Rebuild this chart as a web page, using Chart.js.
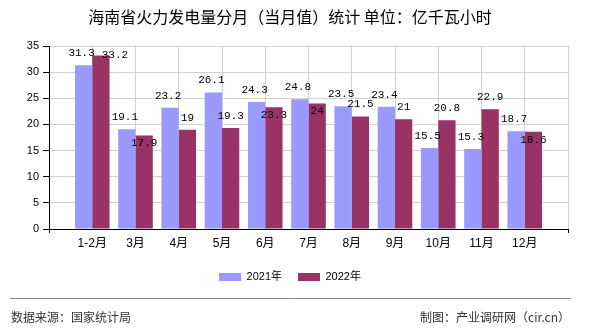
<!DOCTYPE html>
<html>
<head>
<meta charset="utf-8">
<script src="https://cdn.jsdelivr.net/npm/chart.js@4/dist/chart.umd.min.js"></script>
<style>
  html, body { margin: 0; padding: 0; background: #fff; }
  #wrap { width: 590px; height: 330px; position: relative; }
</style>
</head>
<body>
<div id="wrap"><canvas id="chart" width="590" height="330"></canvas></div>
<script>
const titleText = '海南省火力发电量分月（当月值）统计 单位：亿千瓦小时';
const months = ['1-2月', '3月', '4月', '5月', '6月', '7月', '8月', '9月', '10月', '11月', '12月'];
const seriesNames = ['2021年', '2022年'];
const values2021 = [31.3, 19.1, 23.2, 26.1, 24.3, 24.8, 23.5, 23.4, 15.5, 15.3, 18.7];
const values2022 = [33.2, 17.9, 19, 19.3, 23.3, 24, 21.5, 21, 20.8, 22.9, 18.6];
const yTicks = [0, 5, 10, 15, 20, 25, 30, 35];
const sourceText = '数据来源：国家统计局';
const makerText = '制图：产业调研网（cir.cn）';

// empty slots on both ends leave a full category of space at each side
const labels = [''].concat(months, ['']);
const pad = arr => [null].concat(arr, [null]);

const cjk = '"Liberation Sans", "Noto Sans CJK SC", sans-serif';

// value labels, the second series moves when it would hit the first one
const valueLabels = {
  id: 'valueLabels',
  afterDatasetsDraw(chart) {
    const ctx = chart.ctx;
    const m0 = chart.getDatasetMeta(0);
    const m1 = chart.getDatasetMeta(1);
    const yScale = chart.scales.y;
    ctx.save();
    ctx.font = '11px "Liberation Mono", monospace';
    ctx.fillStyle = '#000';
    ctx.textAlign = 'center';
    ctx.textBaseline = 'middle';
    for (let i = 1; i < labels.length - 1; i++) {
      const a = chart.data.datasets[0].data[i];
      const b = chart.data.datasets[1].data[i];
      const ya = yScale.getPixelForValue(a) - 12;
      ctx.fillText(String(a), m0.data[i].x - 2, ya);
      let yb = yScale.getPixelForValue(b) - 12;
      let xb = m1.data[i].x;
      if (Math.abs(yb - ya) < 10) {
        if (b <= a) {
          yb = yScale.getPixelForValue(b) + 8;
        } else {
          yb = yScale.getPixelForValue(b);
          xb += 14;
        }
      }
      ctx.fillText(String(b), xb, yb);
    }
    ctx.restore();
  }
};

const footer = {
  id: 'footer',
  afterDraw(chart) {
    const ctx = chart.ctx;
    ctx.save();
    ctx.strokeStyle = '#888';
    ctx.lineWidth = 1;
    ctx.beginPath();
    ctx.moveTo(10, 298.5);
    ctx.lineTo(571, 298.5);
    ctx.stroke();
    ctx.font = '12px "Noto Sans CJK SC", sans-serif';
    ctx.fillStyle = '#333';
    ctx.textBaseline = 'middle';
    ctx.textAlign = 'left';
    ctx.fillText(sourceText, 11, 317);
    ctx.textAlign = 'right';
    ctx.fillText(makerText, 570, 317);
    ctx.restore();
  }
};

new Chart(document.getElementById('chart').getContext('2d'), {
  type: 'bar',
  data: {
    labels: labels,
    datasets: [{
      label: seriesNames[0],
      data: pad(values2021),
      backgroundColor: '#9999FF',
      categoryPercentage: 0.8,
      barPercentage: 1.0
    }, {
      label: seriesNames[1],
      data: pad(values2022),
      backgroundColor: '#993366',
      categoryPercentage: 0.8,
      barPercentage: 1.0
    }]
  },
  plugins: [valueLabels, footer],
  options: {
    responsive: false,
    animation: false,
    layout: { padding: { left: 12, right: 22, top: 0, bottom: 37.5 } },
    plugins: {
      title: {
        display: true,
        text: titleText,
        color: '#000',
        font: { family: '"Noto Sans CJK SC", sans-serif', size: 16, weight: 'normal' },
        padding: { top: 7, bottom: 19.8 }
      },
      legend: {
        position: 'bottom',
        labels: {
          color: '#000',
          font: { family: cjk, size: 11 },
          boxWidth: 22,
          boxHeight: 8,
          padding: 16
        }
      },
      tooltip: { enabled: false }
    },
    scales: {
      x: {
        offset: false,
        grid: {
          offset: false,
          color: '#d0d0d0',
          tickLength: 4,
          tickColor: c => (c.index === 0 || c.index === labels.length - 1) ? '#000' : 'rgba(0,0,0,0)'
        },
        border: { color: '#000' },
        ticks: {
          color: '#000',
          font: { family: cjk, size: 12 },
          padding: 3,
          maxRotation: 0,
          autoSkip: false
        },
        afterFit: s => { s.height = 26.5; }
      },
      y: {
        min: 0,
        max: 35,
        afterBuildTicks: s => { s.ticks = yTicks.map(v => ({ value: v })); },
        grid: { color: '#d0d0d0', tickLength: 6, tickColor: '#000' },
        border: { color: '#000' },
        ticks: {
          color: '#000',
          font: { family: '"Liberation Sans", sans-serif', size: 11 },
          padding: 4
        },
        afterFit: s => { s.width = 37; }
      }
    }
  }
});
</script>
</body>
</html>
